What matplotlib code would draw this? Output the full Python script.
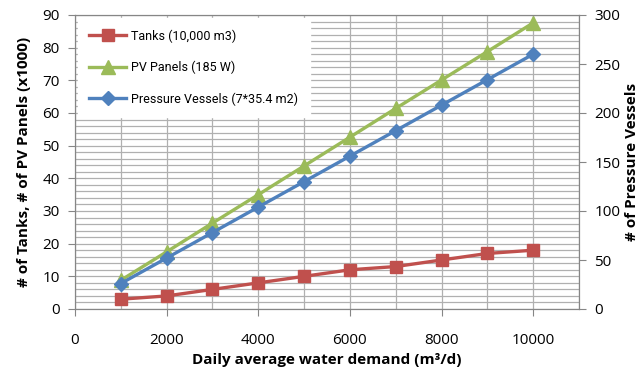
import matplotlib
matplotlib.use("Agg")
import matplotlib.pyplot as plt
from matplotlib.ticker import MultipleLocator

plt.rcParams['font.family'] = ['Open Sans', 'DejaVu Sans']

demand = [1000, 2000, 3000, 4000, 5000, 6000, 7000, 8000, 9000, 10000]
tanks = [3, 4, 6, 8, 10, 12, 13, 15, 17, 18]
pv_panels = [8.8, 17.5, 26.3, 35.0, 43.8, 52.6, 61.4, 70.1, 78.8, 87.6]
vessels = [26, 52, 78, 104, 130, 156, 182, 208, 234, 260]

red = '#C0504D'
green = '#9BBB59'
blue = '#4F81BD'
grey = '#B0B0B0'

fig = plt.figure(figsize=(6.43, 3.72), dpi=100)
ax = fig.add_axes([75 / 643, 1 - 309 / 372, 504 / 643, 294 / 372])
ax2 = ax.twinx()

l1, = ax.plot(demand, tanks, color=red, lw=2.4, marker='s', ms=9,
              label='Tanks (10,000 m3)')
l2, = ax.plot(demand, pv_panels, color=green, lw=2.4, marker='^', ms=10,
              label='PV Panels (185 W)')
l3, = ax2.plot(demand, vessels, color=blue, lw=2.4, marker='D', ms=7,
               label='Pressure Vessels (7*35.4 m2)')

ax.set_xlim(0, 11000)
ax.set_ylim(0, 90)
ax2.set_ylim(0, 300)

ax.xaxis.set_major_locator(MultipleLocator(2000))
ax.xaxis.set_minor_locator(MultipleLocator(1000))
ax.yaxis.set_major_locator(MultipleLocator(10))
ax.yaxis.set_minor_locator(MultipleLocator(2))
ax2.yaxis.set_major_locator(MultipleLocator(50))

ax.grid(True, which='both', color=grey, lw=0.9)
ax.set_axisbelow(True)

for a in (ax, ax2):
    for s in a.spines.values():
        s.set_color('#868686')
ax.tick_params(which='major', direction='out', length=5, color='#868686',
               labelsize=11, pad=6)
ax.tick_params(which='minor', length=0)
ax2.tick_params(direction='out', length=5, color='#868686', labelsize=11, pad=6)
ax.tick_params(axis='x', pad=12)

ax.set_xlabel('Daily average water demand (m³/d)', fontsize=11,
              fontweight='bold', labelpad=4)
ax.set_ylabel('# of Tanks, # of PV Panels (x1000)', fontsize=11,
              fontweight='bold', labelpad=8)
ax2.set_ylabel('# of Pressure Vessels', fontsize=11, fontweight='bold',
               rotation=90)
ax2.yaxis.set_label_coords(1.092, 0.5)

leg = ax2.legend(handles=[l1, l2, l3], loc='upper left',
                 bbox_to_anchor=(0.005, 0.99), frameon=True, fancybox=False,
                 facecolor='white', edgecolor='white', framealpha=1,
                 fontsize=9, handlelength=3, labelspacing=1.45,
                 borderpad=0.9, borderaxespad=0, handletextpad=0.4)
for t in leg.get_texts():
    t.set_family(['Liberation Sans Narrow', 'Roboto', 'DejaVu Sans'])
    t.set_stretch('condensed')

plt.savefig('out.png', dpi=100)
